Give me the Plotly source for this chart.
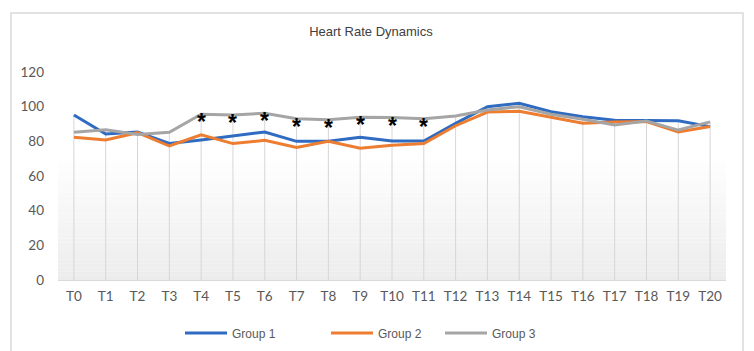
import plotly.graph_objects as go

categories = [f"T{i}" for i in range(21)]
group1 = [95.2, 84.2, 85.4, 78.8, 80.8, 83.1, 85.4, 80.0, 80.0, 82.3, 80.2,
          80.2, 90.4, 100.0, 102.0, 97.1, 94.2, 92.1, 91.9, 91.9, 88.5]
group2 = [82.3, 80.8, 85.0, 77.3, 83.7, 78.7, 80.6, 76.4, 80.0, 76.0, 77.7,
          78.7, 89.0, 96.9, 97.3, 93.9, 90.4, 91.2, 91.4, 85.4, 88.5]
group3 = [85.2, 86.7, 84.0, 85.2, 95.6, 95.2, 96.2, 93.1, 92.5, 93.9, 93.7,
          93.1, 94.6, 98.1, 100.0, 95.6, 92.7, 89.4, 91.7, 86.5, 91.2]
significant = ["T4", "T5", "T6", "T7", "T8", "T9", "T10", "T11"]
y_ticks = [0, 20, 40, 60, 80, 100, 120]

series = [("Group 1", group1, "#2F6BC1", "legend"),
          ("Group 2", group2, "#ED7D31", "legend2"),
          ("Group 3", group3, "#A5A5A5", "legend3")]

fig = go.Figure()

# drop lines from highest series to axis
dx, dy = [], []
for i, c in enumerate(categories):
    top = max(group1[i], group2[i], group3[i])
    dx += [c, c, None]
    dy += [0, top, None]
fig.add_trace(go.Scatter(x=dx, y=dy, mode="lines", line=dict(color="#D6D6D6", width=1),
                         hoverinfo="skip", showlegend=False))

for name, vals, color, lg in series:
    fig.add_trace(go.Scatter(x=categories, y=vals, mode="lines", name=name,
                             line=dict(color=color, width=3), legend=lg))

# significance asterisks on the Group 3 line
annotations = []
for c in significant:
    annotations.append(dict(x=c, y=group3[categories.index(c)], xref="x", yref="y",
                            text="*", showarrow=False, xanchor="center", yanchor="middle",
                            yshift=-8,
                            font=dict(family="Liberation Sans", size=23, color="#000000",
                                      weight="bold")))

# background gradient (white to light gray toward the bottom)
shapes = []
n = 30
g_top = 72.0
for k in range(n):
    y0 = g_top * k / n
    y1 = g_top * (k + 1) / n
    t = 1 - (k + 0.5) / n
    v = int(round(255 - t * (255 - 236)))
    shapes.append(dict(type="rect", xref="paper", yref="y", x0=0, x1=1, y0=y0, y1=y1,
                       fillcolor=f"rgb({v},{v},{v})", line=dict(width=0), layer="below"))
# outer chart frame
shapes.append(dict(type="rect", xref="paper", yref="paper", x0=-0.0704, x1=1.0254,
                   y0=-0.40, y1=1.284, line=dict(color="#D9D9D9", width=1.5),
                   fillcolor="rgba(0,0,0,0)", layer="below"))

leg_common = dict(orientation="h", yanchor="middle", y=-0.255, xanchor="left",
                  bgcolor="rgba(0,0,0,0)", borderwidth=0, itemwidth=42,
                  font=dict(family="Liberation Sans", size=12, color="#595959"))

fig.update_layout(
    width=754, height=351,
    margin=dict(l=58, r=28, t=72, b=71, autoexpand=False),
    paper_bgcolor="white", plot_bgcolor="rgba(0,0,0,0)",
    title=dict(text="Heart Rate Dynamics", x=0.492, xanchor="center", y=0.909, yanchor="middle",
               font=dict(family="Liberation Sans", size=13, color="#404040")),
    shapes=shapes,
    annotations=annotations,
    legend=dict(x=(180 - 58) / 668, **leg_common),
    legend2=dict(x=(326 - 58) / 668, **leg_common),
    legend3=dict(x=(440 - 58) / 668, **leg_common),
    xaxis=dict(type="category", categoryorder="array", categoryarray=categories,
               range=[-0.5, 20.5], showgrid=False, showline=True, linecolor="#D9D9D9",
               linewidth=1, ticks="", zeroline=False, ticklabelstandoff=4,
               tickfont=dict(family="Lato", size=13.5, color="#595959")),
    yaxis=dict(range=[0, 120], tickvals=y_ticks, showgrid=False, zeroline=False,
               showline=False, ticks="", ticklabelstandoff=13,
               tickfont=dict(family="Lato", size=13.5, color="#595959")),
)

fig.write_html("out.html")
